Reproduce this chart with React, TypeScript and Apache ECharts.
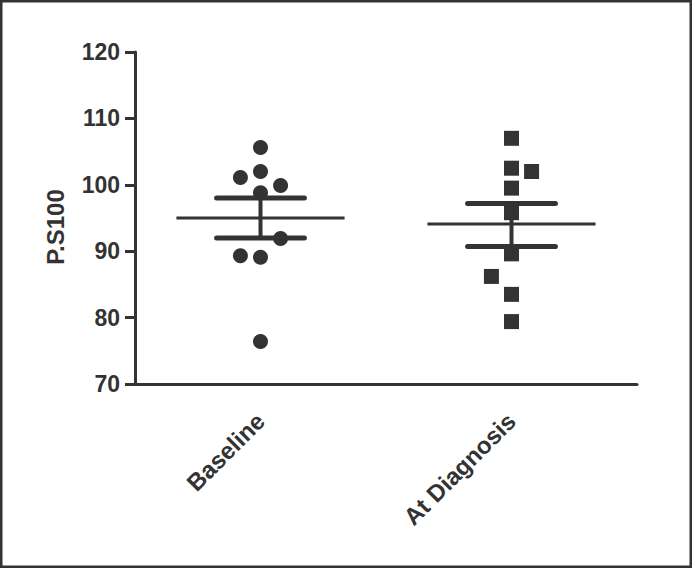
import React, { useEffect, useRef } from "react";
import * as echarts from "echarts";

const categories = ["Baseline", "At Diagnosis"];
const yTicks = [70, 80, 90, 100, 110, 120];

// [horizontal jitter offset (category units), value]
const baselinePoints: [number, number][] = [
  [0, 105.6],
  [0, 102.0],
  [-0.08, 101.1],
  [0.08, 99.9],
  [0, 98.8],
  [0.08, 91.9],
  [-0.08, 89.3],
  [0, 89.1],
  [0, 76.4],
];
const diagnosisPoints: [number, number][] = [
  [0, 107.0],
  [0, 102.5],
  [0.08, 102.0],
  [0, 99.5],
  [0, 95.8],
  [0, 89.6],
  [-0.08, 86.2],
  [0, 83.5],
  [0, 79.4],
];
const means = [95.0, 94.1];
const semUpper = [98.0, 97.2];
const semLower = [92.0, 90.7];

const MEAN_HALF = 0.335;
const SEM_HALF = 0.175;
const INK = "#333333";
const FONT = "'Liberation Sans', Arial, sans-serif";

export default function App() {
  const ref = useRef<HTMLDivElement>(null);
  useEffect(() => {
    if (!ref.current) return;
    const chart = echarts.init(ref.current, undefined, { renderer: "svg" });

    const pointsSeries = [baselinePoints, diagnosisPoints].map((pts, ci) => ({
      type: "scatter",
      xAxisIndex: 1,
      symbol: ci === 0 ? "circle" : "rect",
      symbolSize: 15,
      itemStyle: { color: INK, opacity: 1 },
      data: pts.map(([dx, v]) => [ci + dx, v]),
      z: 3,
    }));

    const lineSeries: any[] = [];
    categories.forEach((_, ci) => {
      lineSeries.push({
        type: "line",
        xAxisIndex: 1,
        symbol: "none",
        lineStyle: { color: INK, width: 3 },
        data: [
          [ci - MEAN_HALF, means[ci]],
          [ci + MEAN_HALF, means[ci]],
        ],
        z: 4,
      });
      [semUpper[ci], semLower[ci]].forEach((v) => {
        lineSeries.push({
          type: "line",
          xAxisIndex: 1,
          symbol: "none",
          lineStyle: { color: INK, width: 5, cap: "round" },
          data: [
            [ci - SEM_HALF, v],
            [ci + SEM_HALF, v],
          ],
          z: 4,
        });
      });
      lineSeries.push({
        type: "line",
        xAxisIndex: 1,
        symbol: "none",
        lineStyle: { color: INK, width: 4 },
        data: [
          [ci, semLower[ci]],
          [ci, semUpper[ci]],
        ],
        z: 4,
      });
    });

    chart.setOption({
      animation: false,
      backgroundColor: "#ffffff",
      grid: { left: 135, right: 55, top: 52, bottom: 184, containLabel: false },
      graphic: [
        {
          type: "rect",
          shape: { x: 0, y: 0, width: 692, height: 568 },
          style: { fill: "none", stroke: "#333333", lineWidth: 5 },
          silent: true,
        },
      ],
      xAxis: [
        {
          type: "category",
          data: categories,
          position: "bottom",
          axisLine: { onZero: false, lineStyle: { color: INK, width: 3 } },
          axisTick: { alignWithLabel: true, length: 9, lineStyle: { color: INK, width: 3 } },
          axisLabel: {
            rotate: 45,
            margin: 33,
            color: INK,
            fontFamily: FONT,
            fontWeight: "bold",
            fontSize: 24,
          },
          splitLine: { show: false },
        },
        {
          type: "value",
          min: -0.5,
          max: 1.5,
          show: false,
          position: "bottom",
          splitLine: { show: false },
        },
      ],
      yAxis: {
        type: "value",
        min: yTicks[0],
        max: yTicks[yTicks.length - 1],
        interval: 10,
        name: "P.S100",
        nameLocation: "middle",
        nameRotate: 90,
        nameGap: 68,
        nameTextStyle: {
          color: INK,
          fontFamily: FONT,
          fontWeight: "bold",
          fontSize: 24,
          padding: [0, 18, 0, 0],
        },
        axisLine: { show: true, onZero: false, lineStyle: { color: INK, width: 3 } },
        axisTick: { show: true, length: 10, lineStyle: { color: INK, width: 3 } },
        axisLabel: {
          margin: 15,
          color: INK,
          fontFamily: FONT,
          fontWeight: "bold",
          fontSize: 23,
        },
        splitLine: { show: false },
      },
      series: [...pointsSeries, ...lineSeries],
    });
    return () => chart.dispose();
  }, []);

  return (
    <div
      ref={ref}
      style={{ position: "absolute", left: 0, top: 0, width: 692, height: 568 }}
    />
  );
}
